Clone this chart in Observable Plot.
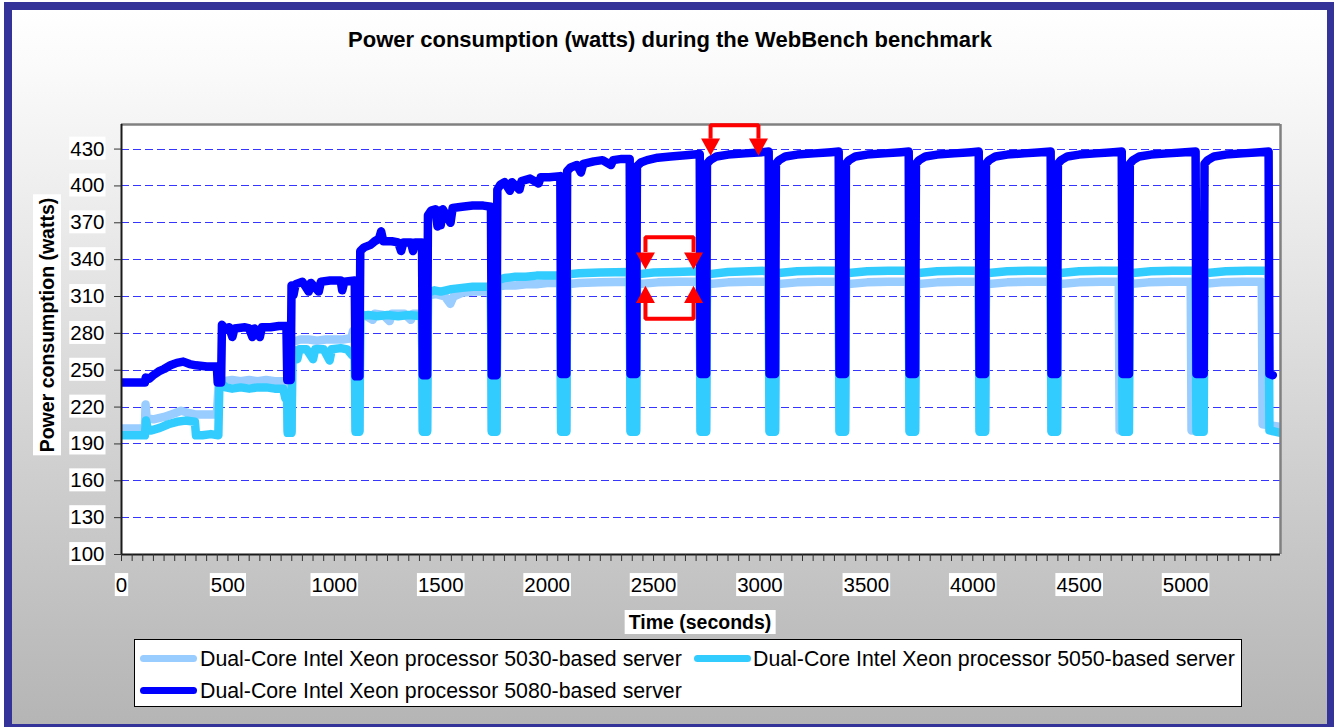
<!DOCTYPE html>
<html><head><meta charset="utf-8">
<script src="https://cdn.jsdelivr.net/npm/d3@7"></script>
<script src="https://cdn.jsdelivr.net/npm/@observablehq/plot@0.6"></script>
<style>
body{margin:0;background:#fff;font-family:"Liberation Sans",Arial,sans-serif;}
#page{position:relative;width:1334px;height:727px;overflow:hidden;background:#fff;}
#bg{position:absolute;left:4px;top:2px;width:1331px;height:730px;box-sizing:border-box;border:8px solid #333399;
  background:linear-gradient(to bottom,#ffffff 0%,#fbfbfb 7%,#f0f0f0 22.5%,#e2e2e2 40.7%,#cfcfcf 64.6%,#bfbfbf 85.7%,#b5b5b5 100%);}
#title{position:absolute;left:0;width:1340px;top:28.5px;text-align:center;font-weight:bold;font-size:22px;line-height:22px;color:#000;white-space:nowrap;}
#chart{position:absolute;left:0;top:0;}
#ylabel{position:absolute;left:46.7px;top:325px;transform:translate(-50%,-50%) rotate(-90deg);background:#fff;font-weight:bold;font-size:19.5px;line-height:24px;padding:2px 3px;white-space:nowrap;color:#000;}
#xlabel{position:absolute;left:700px;top:622px;transform:translate(-50%,-50%);background:#fff;font-weight:bold;font-size:19.5px;line-height:24px;padding:0 4px;white-space:nowrap;color:#000;}
#legend{position:absolute;left:134px;top:639px;width:1108px;height:68px;box-sizing:border-box;border:1px solid #000;background:#fff;}
.sw{position:absolute;height:7px;width:57px;border-radius:3.5px;}
.lt{position:absolute;font-size:21.3px;line-height:21.3px;white-space:nowrap;color:#000;}
</style></head><body>
<div id="page">
  <div id="bg"></div>
  <div id="title">Power consumption (watts) during the WebBench benchmark</div>
  <div id="chart"></div>
  <div id="ylabel">Power consumption (watts)</div>
  <div id="xlabel">Time (seconds)</div>
  <div id="legend"></div>
</div>
<script>
// ---- data (time in seconds, power in watts) ----
const seriesNames = [
  "Dual-Core Intel Xeon processor 5030-based server",
  "Dual-Core Intel Xeon processor 5050-based server",
  "Dual-Core Intel Xeon processor 5080-based server"
];
const seriesColors = ["#99CCFF", "#33CCFF", "#0000FF"];
const yTicks = [100,130,160,190,220,250,280,310,340,370,400,430];
const gridTicks = [130,160,190,220,250,280,310,340,370,400,430];
const xTicks = [0,500,1000,1500,2000,2500,3000,3500,4000,4500,5000];
const xMax = 5446;

const s5030 = [
[0,202.5],[110,202.5],[113,222],[118,211],[150,210],[200,212],[250,215],[280,217],[320,215],[345,214],[448,214],
[458,242],[480,241],[520,242],[560,241],[600,242],[640,241],[680,242],[720,241],[760,241],[770,232],[777,229],
[781,201],[799,201],[803,273],[840,275],[880,275],[920,274],[960,275],[1000,275],[1040,275],[1080,276],[1088,282],[1096,281],
[1100,201],[1118,201],[1122,296],[1150,294],[1180,291],[1190,296],[1230,295],[1260,290],[1270,296],[1330,296],[1360,291],[1370,296],[1412,296],
[1416,201],[1436,201],[1440,311],[1480,312],[1520,310],[1545,304],[1560,310],[1600,313],[1650,314],[1700,314],[1736,314],
[1740,201],[1762,201],[1766,318],[1800,319],[1850,319],[1900,320],[1950,320],[2000,321],[2062,321],
[2066,201],[2090,201],[2094,320],[2150,321],[2250,321.5],[2388,322],
[2392,201],[2418,201],[2422,320],[2520,321.5],[2620,322],[2717,322],
[2721,201],[2747,201],[2751,320],[2850,321.5],[2950,322],[3041,322],
[3045,201],[3071,201],[3075,320],[3175,321.5],[3275,322],[3370,322],
[3374,201],[3400,201],[3404,320],[3504,321.5],[3604,322],[3699,322],
[3703,201],[3729,201],[3733,320],[3833,321.5],[3933,322],[4028,322],
[4032,201],[4058,201],[4062,320],[4162,321.5],[4262,322],[4366,322],
[4370,201],[4396,201],[4400,320],[4500,321.5],[4600,322],[4686,322],
[4690,201],[4722,201],[4726,320],[4826,321.5],[4926,322],[5024,322],
[5028,201],[5062,201],[5066,320],[5166,321.5],[5266,322],[5358,322],
[5362,206],[5400,205],[5446,204]
];

const s5050 = [
[0,197],[110,197],[115,209],[125,201],[140,201],[180,203],[220,206],[260,208],[300,209],[345,208],[350,197],[380,197],[420,198],[455,197],
[461,248],[472,239],[490,236],[520,235],[560,236],[600,235],[640,236],[680,236],[720,235],[760,235],[770,227],[779,226],
[781,199],[799,199],[803,266],[815,266],[826,259],[836,267],[870,267],[900,259],[910,267],[950,267],[978,258],[988,267],[1030,268],[1060,267],[1085,262],[1096,262],
[1100,200],[1118,200],[1122,294],[1160,295],[1200,294],[1250,295],[1300,294],[1350,295],[1412,294],
[1416,200],[1436,200],[1440,313],[1470,315],[1500,314],[1550,316],[1600,317],[1650,318],[1700,318],[1736,318],
[1740,200],[1762,200],[1766,323],[1800,325],[1850,326],[1900,326],[1950,327],[2000,327],[2062,327],
[2066,200],[2090,200],[2094,328],[2150,329],[2250,329.5],[2388,330],
[2392,200],[2418,200],[2422,328],[2500,329.5],[2600,330],[2717,330.5],
[2721,200],[2747,200],[2751,328],[2850,330],[2950,330.5],[3041,331],
[3045,200],[3071,200],[3075,329],[3175,330.5],[3275,331],[3370,331],
[3374,200],[3400,200],[3404,329],[3504,330.5],[3604,331],[3699,331],
[3703,200],[3729,200],[3733,329],[3833,330.5],[3933,331],[4028,331],
[4032,200],[4058,200],[4062,329],[4162,330.5],[4262,331],[4366,331],
[4370,200],[4396,200],[4400,329],[4500,330.5],[4600,331],[4700,331],
[4704,200],[4734,200],[4738,329],[4838,330.5],[4938,331],[5047,331],
[5051,200],[5085,200],[5089,329],[5189,330.5],[5289,331],[5390,331],
[5394,201],[5420,200],[5446,199]
];

const s5080 = [
[0,240],[110,240],[114,244],[130,243],[150,246],[175,249],[200,251],[230,254],[260,256],[290,257],[320,255],[350,254],[400,253],[448,253],
[452,240],[468,240],[472,287],[490,283],[505,285],[521,277],[531,284],[580,285],[600,284],[615,277],[625,284],[650,277],[660,285],[700,285],[740,286],[775,286],
[779,242],[795,242],[799,319],[808,311],[818,320],[850,322],[880,314],[890,321],[927,314],[937,322],[980,323],[1030,323],[1037,315],[1047,322],[1096,323],
[1100,245],[1118,245],[1122,347],[1140,350],[1170,352],[1190,355],[1210,357],[1220,363],[1230,355],[1270,355],[1300,354],[1314,347],[1325,354],[1360,354],[1370,347],[1380,354],[1412,354],
[1416,246],[1436,246],[1440,376],[1455,380],[1475,381],[1485,367],[1495,380],[1500,368],[1510,381],[1546,370],[1556,382],[1600,383],[1650,384],[1700,384],[1736,383],
[1740,246],[1762,246],[1766,397],[1780,401],[1800,403],[1825,396],[1835,403],[1870,397],[1880,404],[1920,406],[1960,402],[1970,407],[2010,407],[2062,408],
[2066,247],[2090,247],[2094,412],[2110,415],[2140,417],[2159,411],[2170,418],[2220,420],[2260,421],[2300,417],[2310,421],[2350,422],[2388,422],
[2392,247],[2418,247],[2422,416],[2440,419],[2470,421],[2520,423],[2580,424],[2650,425],[2717,426],
[2721,247],[2747,247],[2751,418],[2766,421],[2796,424],[2851,425.5],[2931,426.5],[3011,427.5],[3041,428],
[3045,247],[3071,247],[3075,418],[3090,421],[3120,424],[3175,425.5],[3255,426.5],[3335,427.5],[3370,428],
[3374,247],[3400,247],[3404,418],[3419,421],[3449,424],[3504,425.5],[3584,426.5],[3664,427.5],[3699,428],
[3703,247],[3729,247],[3733,418],[3748,421],[3778,424],[3833,425.5],[3913,426.5],[3993,427.5],[4028,428],
[4032,247],[4058,247],[4062,418],[4077,421],[4107,424],[4162,425.5],[4242,426.5],[4322,427.5],[4366,428],
[4370,247],[4396,247],[4400,418],[4415,421],[4445,424],[4500,425.5],[4580,426.5],[4660,427.5],[4700,428],
[4704,247],[4734,247],[4738,418],[4753,421],[4783,424],[4838,425.5],[4918,426.5],[4998,427.5],[5047,428],
[5051,247],[5085,247],[5089,418],[5104,421],[5134,424],[5189,425.5],[5269,426.5],[5349,427.5],[5390,428],
[5394,247],[5410,246]
];

// annotation brackets (data units)
const bracketTop   = [[2768,438.5],[2768,449.3],[2993,449.3],[2993,438.5]];
const bracketUpper = [[2462,346.3],[2462,358.2],[2688,358.2],[2688,346.3]];
const bracketLower = [[2462,304.7],[2462,291.8],[2688,291.8],[2688,304.7]];
const arrowsDown = [[2768,431.6],[2993,431.6],[2462,338.9],[2688,338.9]];
const arrowsUp   = [[2462,311.7],[2688,311.7]];

// ---- symbols ----
const triDown = {draw(ctx, size){const r=Math.sqrt(size/Math.PI);ctx.moveTo(-r,-0.9*r);ctx.lineTo(r,-0.9*r);ctx.lineTo(0,0.9*r);ctx.closePath();}};
const triUp = {draw(ctx, size){const r=Math.sqrt(size/Math.PI);ctx.moveTo(-r,0.9*r);ctx.lineTo(r,0.9*r);ctx.lineTo(0,-0.9*r);ctx.closePath();}};

const X = d => d[0], Y = d => d[1];
const lineOpts = c => ({x: X, y: Y, stroke: c, strokeWidth: 8.5, strokeLinejoin: "round", strokeLinecap: "round", clip: true});
const redOpts = {x: X, y: Y, stroke: "#FF0000", strokeWidth: 4, strokeLinejoin: "miter", strokeLinecap: "butt"};
const minorTicks = d3.range(0, 5401, 50);

const plot = Plot.plot({
  width: 1334, height: 727,
  marginLeft: 121, marginRight: 54, marginTop: 124, marginBottom: 173,
  style: {background: "transparent", fontFamily: "Liberation Sans, Arial, sans-serif", fontSize: "20.5px", color: "#000", overflow: "visible"},
  x: {domain: [0, xMax], label: null},
  y: {domain: [100, 450], label: null},
  marks: [
    Plot.frame({fill: "white", stroke: null}),
    Plot.gridY(gridTicks, {stroke: "#3535ff", strokeOpacity: 1, strokeWidth: 1, strokeDasharray: "8,4", shapeRendering: "crispEdges"}),
    Plot.line(s5030, lineOpts(seriesColors[0])),
    Plot.line(s5050, lineOpts(seriesColors[1])),
    Plot.line(s5080, lineOpts(seriesColors[2])),
    Plot.ruleY([450], {stroke: "#808080", strokeWidth: 2.5}),
    Plot.ruleX([xMax], {stroke: "#808080", strokeWidth: 2.5}),
    Plot.ruleX([0], {stroke: "#1a1a1a", strokeWidth: 2}),
    Plot.ruleY([100], {stroke: "#1a1a1a", strokeWidth: 2}),
    Plot.axisY(yTicks, {tickSize: 7, tickPadding: 10, fontSize: 20.5, stroke: "#333", tickFormat: d => String(d)}),
    Plot.axisX(minorTicks, {tickSize: 7, stroke: "#333", fill: "none"}),
    Plot.axisX(xTicks, {tickSize: 0, tickPadding: 23, fontSize: 20.5, tickFormat: d => String(d)}),
    Plot.line(bracketTop, redOpts),
    Plot.line(bracketUpper, redOpts),
    Plot.line(bracketLower, redOpts),
    Plot.dot(arrowsDown, {x: X, y: Y, symbol: triDown, r: 9.5, fill: "#FF0000", stroke: null}),
    Plot.dot(arrowsUp, {x: X, y: Y, symbol: triUp, r: 9.5, fill: "#FF0000", stroke: null})
  ]
});
document.getElementById("chart").append(plot);

// white boxes behind tick labels (Excel style)
d3.select(plot).selectAll('g[aria-label="y-axis tick label"] text, g[aria-label="x-axis tick label"] text').each(function(){
  const b = this.getBBox();
  if (!b.width) return;
  const r = document.createElementNS("http://www.w3.org/2000/svg", "rect");
  r.setAttribute("x", b.x - 1);
  r.setAttribute("y", b.y);
  r.setAttribute("width", b.width + 2);
  r.setAttribute("height", b.height);
  r.setAttribute("fill", "white");
  r.setAttribute("stroke", "none");
  const t = this.getAttribute("transform");
  if (t) r.setAttribute("transform", t);
  this.parentNode.insertBefore(r, this);
});

// legend
const legend = document.getElementById("legend");
const legendPos = [{sx:5, tx:65, sy:15, ty:8.7}, {sx:559, tx:618, sy:15, ty:8.7}, {sx:5, tx:65, sy:47, ty:40.5}];
seriesNames.forEach((name, i) => {
  const p = legendPos[i];
  const sw = document.createElement("div");
  sw.className = "sw"; sw.style.left = p.sx + "px"; sw.style.top = p.sy + "px"; sw.style.background = seriesColors[i];
  const tx = document.createElement("div");
  tx.className = "lt"; tx.style.left = p.tx + "px"; tx.style.top = p.ty + "px"; tx.textContent = name;
  legend.append(sw, tx);
});
</script>
</body></html>
